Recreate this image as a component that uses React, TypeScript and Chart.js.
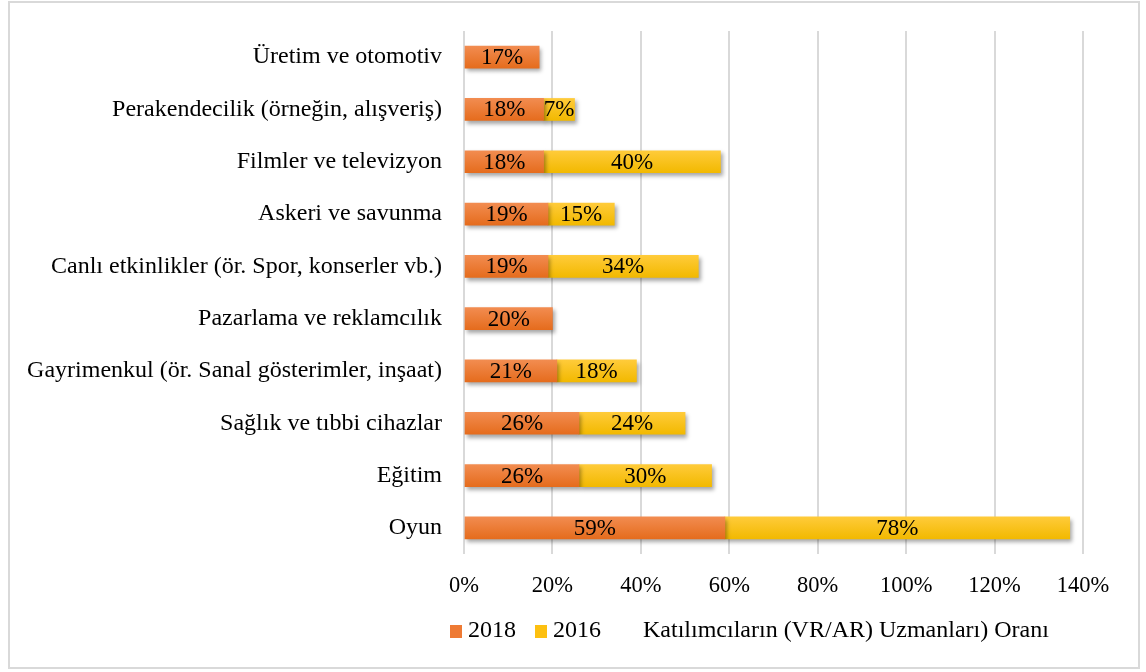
import React, { useEffect, useRef } from "react";
import { Chart, registerables } from "chart.js";

Chart.register(...registerables);

const categories = [
  "Üretim ve otomotiv",
  "Perakendecilik (örneğin, alışveriş)",
  "Filmler ve televizyon",
  "Askeri ve savunma",
  "Canlı etkinlikler (ör. Spor, konserler vb.)",
  "Pazarlama ve reklamcılık",
  "Gayrimenkul (ör. Sanal gösterimler, inşaat)",
  "Sağlık ve tıbbi cihazlar",
  "Eğitim",
  "Oyun",
];
const values2018 = [17, 18, 18, 19, 19, 20, 21, 26, 26, 59];
const values2016: (number | null)[] = [null, 7, 40, 15, 34, null, 18, 24, 30, 78];
const seriesLabels = ["2018", "2016"];
const axisTitle = "Katılımcıların (VR/AR) Uzmanları) Oranı";
const xMax = 140;
const xStep = 20;

const FONT = "'Liberation Serif', 'Times New Roman', serif";

const orangeStops = ["#F28C50", "#E56C1D"];
const yellowStops = ["#FFCB3A", "#F2B900"];
const legendColors = ["#EE7A34", "#FDC010"];

function gradientFor(stops: string[]) {
  return (ctx: any) => {
    const chart = ctx.chart;
    const yScale = chart.scales && chart.scales.y;
    if (!yScale || ctx.dataIndex === undefined) return stops[1];
    const yc = yScale.getPixelForValue(ctx.dataIndex);
    if (!Number.isFinite(yc)) return stops[1];
    const g = chart.ctx.createLinearGradient(0, yc - 11, 0, yc + 11);
    g.addColorStop(0, stops[0]);
    g.addColorStop(1, stops[1]);
    return g;
  };
}

const decorPlugin = {
  id: "decor",
  beforeDraw(chart: any) {
    const c = chart.ctx;
    c.save();
    c.fillStyle = "#ffffff";
    c.fillRect(0, 0, chart.width, chart.height);
    c.strokeStyle = "#d9d9d9";
    c.lineWidth = 2;
    c.strokeRect(9, 2, 1130, 666);
    c.restore();
  },
  beforeDatasetDraw(chart: any) {
    const c = chart.ctx;
    c.save();
    c.shadowColor = "rgba(0,0,0,0.35)";
    c.shadowBlur = 4;
    c.shadowOffsetX = 2;
    c.shadowOffsetY = 3;
  },
  afterDatasetDraw(chart: any) {
    chart.ctx.restore();
  },
  afterDatasetsDraw(chart: any) {
    const c = chart.ctx;
    c.save();
    c.font = `23px ${FONT}`;
    c.fillStyle = "#000000";
    c.textAlign = "center";
    c.textBaseline = "middle";
    chart.data.datasets.forEach((ds: any, di: number) => {
      const meta = chart.getDatasetMeta(di);
      meta.data.forEach((bar: any, i: number) => {
        const v = ds.data[i];
        if (v === null || v === undefined) return;
        const { x, base, y } = bar.getProps(["x", "base", "y"], true);
        c.fillText(`${v}%`, (x + base) / 2, y + 1);
      });
    });
    c.restore();
  },
  afterDraw(chart: any) {
    const c = chart.ctx;
    c.save();
    c.font = `24px ${FONT}`;
    c.textBaseline = "middle";
    c.textAlign = "left";
    c.fillStyle = "#000000";
    const yc = 631;
    let x = 450;
    chart.data.datasets.forEach((ds: any, di: number) => {
      c.fillStyle = legendColors[di];
      c.fillRect(x, yc - 6, 12, 13);
      c.fillStyle = "#000000";
      c.fillText(ds.label, x + 18, yc);
      x += 18 + c.measureText(ds.label).width + 19;
    });
    c.fillText(axisTitle, 643, yc);
    c.restore();
  },
};

export default function App() {
  const canvasRef = useRef<HTMLCanvasElement | null>(null);

  useEffect(() => {
    if (!canvasRef.current) return;
    Chart.defaults.font.family = FONT;
    const chart = new Chart(canvasRef.current, {
      type: "bar",
      data: {
        labels: categories,
        datasets: [
          {
            label: seriesLabels[0],
            data: values2018,
            backgroundColor: gradientFor(orangeStops) as any,
            barThickness: 22,
            borderWidth: 0,
          },
          {
            label: seriesLabels[1],
            data: values2016 as any,
            backgroundColor: gradientFor(yellowStops) as any,
            barThickness: 22,
            borderWidth: 0,
          },
        ],
      },
      options: {
        indexAxis: "y",
        animation: false,
        responsive: true,
        maintainAspectRatio: false,
        layout: { padding: { top: 31, right: 63, bottom: 0, left: 0 } },
        plugins: {
          legend: { display: false },
          tooltip: { enabled: false },
          title: { display: false },
        },
        scales: {
          x: {
            stacked: true,
            min: 0,
            max: xMax,
            ticks: {
              stepSize: xStep,
              callback: (v: any) => `${v}%`,
              font: { size: 22.5, family: FONT },
              color: "#000000",
              padding: 19,
            },
            grid: { color: "#d9d9d9", lineWidth: 2, drawTicks: false },
            border: { display: false },
            afterFit: (scale: any) => {
              scale.height = 118;
            },
          },
          y: {
            stacked: true,
            ticks: {
              font: { size: 24, family: FONT },
              color: "#000000",
              padding: 22,
              autoSkip: false,
            },
            grid: { display: false, drawTicks: false },
            border: { display: false },
            afterFit: (scale: any) => {
              scale.width = 464;
              scale.paddingTop = 0;
              scale.paddingBottom = 0;
            },
          },
        },
      },
      plugins: [decorPlugin],
    });
    return () => chart.destroy();
  }, []);

  return (
    <div style={{ position: "absolute", left: 0, top: 0, width: 1146, height: 672 }}>
      <canvas ref={canvasRef} />
    </div>
  );
}
